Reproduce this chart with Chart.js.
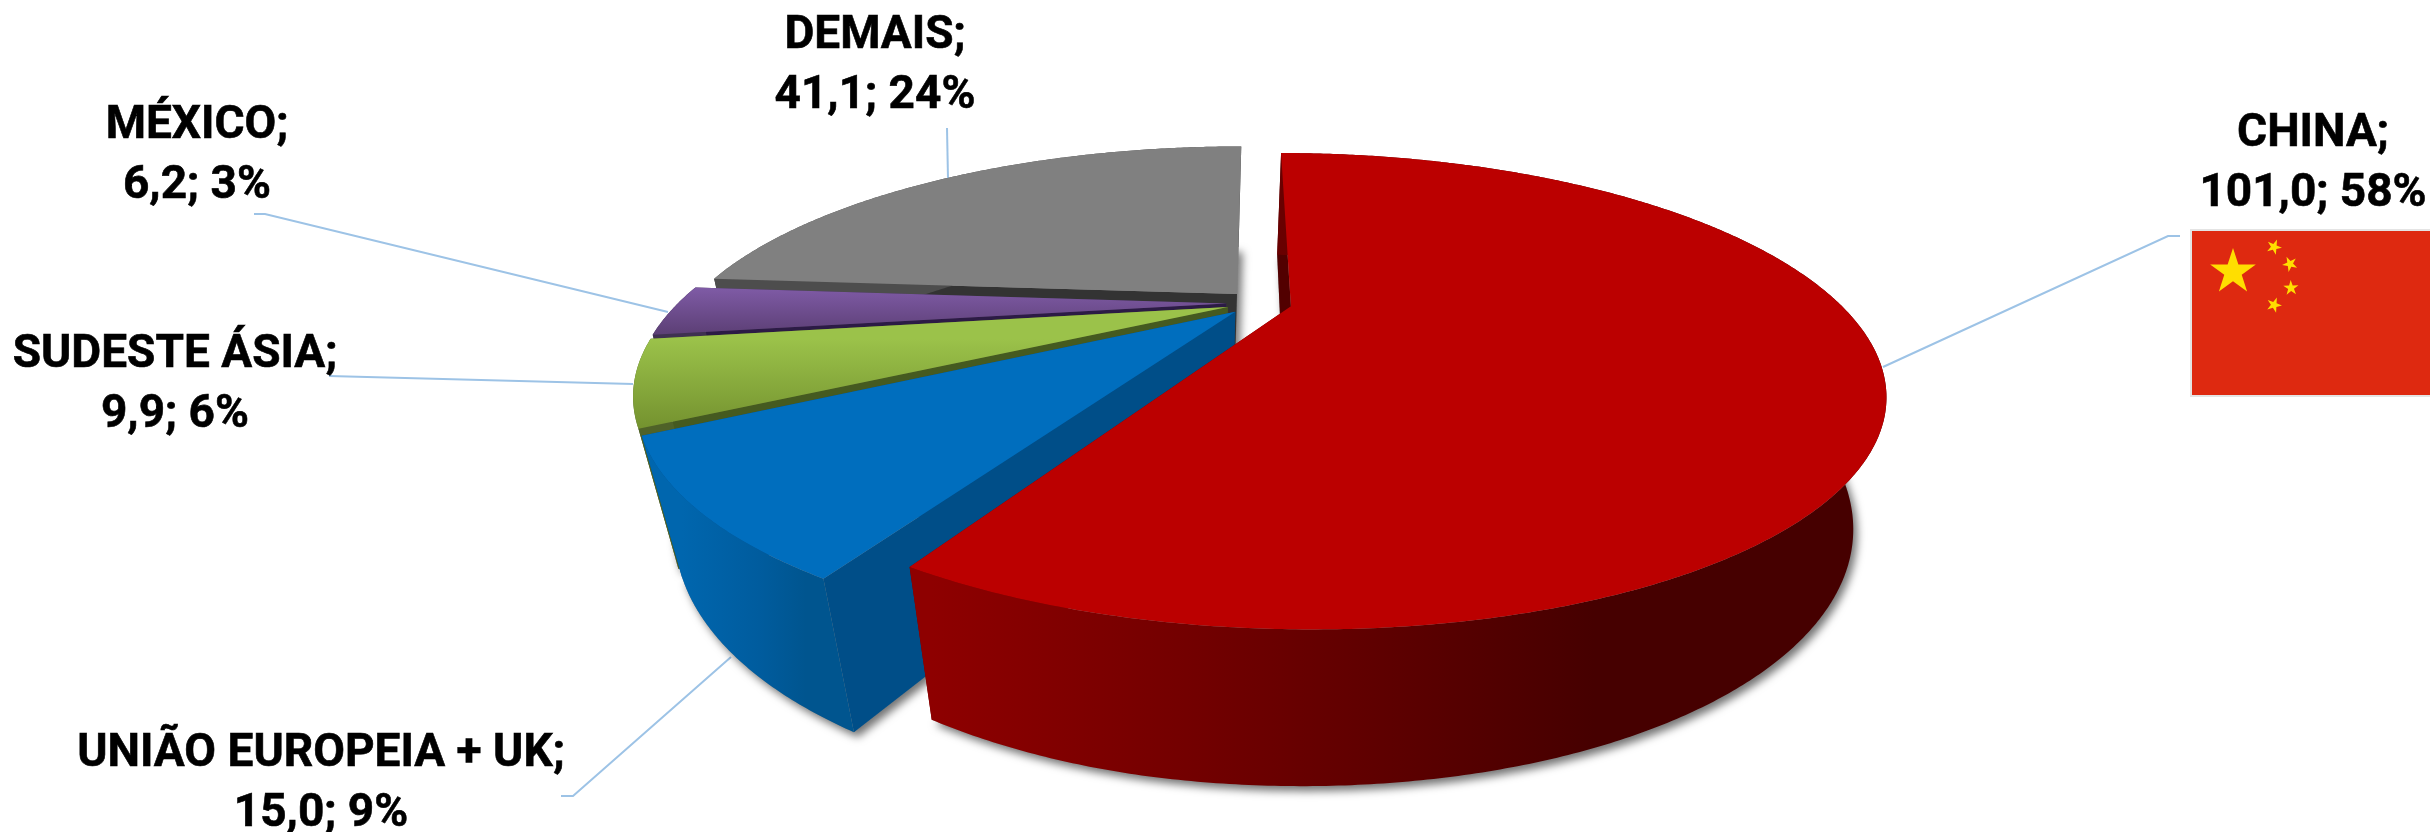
<!DOCTYPE html>
<html><head><meta charset="utf-8">
<style>html,body{margin:0;padding:0;background:#fff}canvas{display:block}</style>
<script src="https://cdn.jsdelivr.net/npm/chart.js@4/dist/chart.umd.js"></script>
</head><body>
<canvas id="c" width="2430" height="832"></canvas>
<script>
// ---- data ----
const categories = ['CHINA', 'UNIÃO EUROPEIA + UK', 'SUDESTE ÁSIA', 'MÉXICO', 'DEMAIS'];
const values = [101.0, 15.0, 9.9, 6.2, 41.1];
const percentLabels = ['58%', '9%', '6%', '3%', '24%'];
// ---- style ----
const topColors = ['#BB0000', '#006EBE', '#9BC24A', '#7F5BA6', '#808080'];
const topShade = [null, null, '#74922F', '#5C3F75', null];
const wallStart = ['#8E0000', '#0066AE', '#4F6228', '#3F3151', '#4D4D4D'];
const wallMid = ['#620000', '#005C9E', '#4F6228', '#3F3151', '#4D4D4D'];
const wallEnd = ['#460000', '#00558F', '#4F6228', '#3F3151', '#4D4D4D'];
const edgeStartColors = ['#520000', '#004E88', '#455A20', '#2C1B45', '#333333'];
const edgeEndColors = ['#6A0000', '#004E88', '#4F6228', '#3F3151', '#777777'];
const drawOrder = [4, 3, 2, 1, 0];
const labelAnchors = [[2313, 146], [321, 766], [175, 367], [197, 138], [875, 48]];
const leaderLines = [
  [[1883, 367], [2168, 236], [2180, 236]],
  [[731, 657], [573, 796], [561, 796]],
  [[633, 384], [329, 376]],
  [[668, 312], [265, 214], [254, 214]],
  [[948, 179], [947, 128]]
];
// projective view of the pie plane
const VIEW = {a: 548, b: -445, c: 1259, e: 98, f: 303, h: -0.355, m: 0.07, vx: 1149, vy: 2218, rightPull: 0.6};
function project(p, q, z) {
  const w0 = 1 + VIEW.h * q;
  const x0 = (VIEW.a * p + VIEW.b * q + VIEW.c) / w0;
  const y0 = (VIEW.e * q + VIEW.f) / w0;
  if (!z) return [x0, y0];
  const mu = VIEW.m * z / (w0 + VIEW.m * z);
  const pull = x0 > VIEW.vx ? VIEW.rightPull : 1;
  return [x0 + mu * (VIEW.vx - x0) * pull, y0 + mu * (VIEW.vy - y0)];
}
function sliceGeom(el) {
  const mid = (el.startAngle + el.endAngle) / 2;
  const off = (el.options.offset || 0) / 4 / el.outerRadius;
  const ox = Math.cos(mid) * off, oy = Math.sin(mid) * off;
  const n = Math.max(2, Math.ceil((el.endAngle - el.startAngle) / 0.008));
  const rim = [];
  for (let i = 0; i <= n; i++) {
    const t = el.startAngle + (el.endAngle - el.startAngle) * i / n;
    rim.push([Math.cos(t) + ox, Math.sin(t) + oy]);
  }
  return {rim, centre: [ox, oy]};
}
function poly(ctx, pts) {
  ctx.beginPath();
  pts.forEach((pt, i) => i ? ctx.lineTo(pt[0], pt[1]) : ctx.moveTo(pt[0], pt[1]));
  ctx.closePath();
}
function star(ctx, x, y, r, rot) {
  ctx.beginPath();
  for (let i = 0; i < 10; i++) {
    const rr = i % 2 ? r * 0.382 : r, t = rot + i * Math.PI / 5;
    ctx.lineTo(x + rr * Math.sin(t), y - rr * Math.cos(t));
  }
  ctx.closePath();
  ctx.fill();
}
const pie3d = {
  id: 'pie3d',
  beforeDatasetsDraw(chart) {
    const ctx = chart.ctx, els = chart.getDatasetMeta(0).data;
    ctx.save();
    // leader lines
    ctx.strokeStyle = '#9DC3E6'; ctx.lineWidth = 2;
    leaderLines.forEach(l => {
      ctx.beginPath();
      l.forEach((pt, i) => i ? ctx.lineTo(pt[0], pt[1]) : ctx.moveTo(pt[0], pt[1]));
      ctx.stroke();
    });
    // cast shadow
    ctx.save();
    ctx.shadowColor = 'rgba(0,0,0,0.55)'; ctx.shadowBlur = 9;
    ctx.shadowOffsetX = 4; ctx.shadowOffsetY = 5;
    ctx.fillStyle = '#888';
    drawOrder.forEach(i => {
      const g = sliceGeom(els[i]);
      poly(ctx, [project(g.centre[0], g.centre[1], 1), ...g.rim.map(r => project(r[0], r[1], 1))]);
      ctx.fill();
    });
    ctx.restore();
    // slices, back to front
    drawOrder.forEach(i => {
      const g = sliceGeom(els[i]);
      const top = [project(g.centre[0], g.centre[1], 0), ...g.rim.map(r => project(r[0], r[1], 0))];
      const bottom = [project(g.centre[0], g.centre[1], 1), ...g.rim.map(r => project(r[0], r[1], 1))];
      const last = top.length - 1;
      // radial walls: the closing wall first, the opening wall (the visible one) over it
      poly(ctx, [top[0], top[last], bottom[last], bottom[0]]);
      ctx.fillStyle = edgeEndColors[i]; ctx.fill();
      poly(ctx, [top[0], top[1], bottom[1], bottom[0]]);
      ctx.fillStyle = edgeStartColors[i]; ctx.fill();
      // outer wall
      const xs = bottom.slice(1).map(p => p[0]);
      const grad = ctx.createLinearGradient(Math.min(...xs), 0, Math.max(...xs), 0);
      grad.addColorStop(0, wallStart[i]);
      grad.addColorStop(0.45, wallMid[i]);
      grad.addColorStop(0.72, wallEnd[i]);
      grad.addColorStop(1, wallEnd[i]);
      poly(ctx, [...top.slice(1), ...bottom.slice(1).reverse()]);
      ctx.fillStyle = grad; ctx.fill();
      // top face
      poly(ctx, top);
      if (topShade[i]) {
        const ys = top.map(p => p[1]);
        const yTop = Math.min(...top.slice(1).map(p => p[1]));
        const vg = ctx.createLinearGradient(0, yTop, 0, Math.max(...ys));
        vg.addColorStop(0, els[i].options.backgroundColor);
        vg.addColorStop(1, topShade[i]);
        ctx.fillStyle = vg;
      } else {
        ctx.fillStyle = els[i].options.backgroundColor;
      }
      ctx.fill();
    });
    // flag
    ctx.fillStyle = '#E4E4E4'; ctx.fillRect(2190, 229, 240, 168);
    ctx.fillStyle = '#DE2910'; ctx.fillRect(2192, 231, 238, 164);
    ctx.fillStyle = '#FFDE00';
    star(ctx, 2233, 272, 24, 0);
    [[2274, 247], [2290, 264], [2291, 288], [2274, 305]].forEach(s => {
      star(ctx, s[0], s[1], 8, Math.atan2(2233 - s[0], s[1] - 272));
    });
    // labels
    ctx.fillStyle = '#000';
    ctx.strokeStyle = '#000';
    ctx.lineWidth = 0.6;
    ctx.font = 'bold 46px Roboto';
    ctx.textAlign = 'center';
    ctx.textBaseline = 'alphabetic';
    categories.forEach((name, i) => {
      const [x, y] = labelAnchors[i];
      const line2 = values[i].toFixed(1).replace('.', ',') + '; ' + percentLabels[i];
      ctx.fillText(name + ';', x, y);
      ctx.strokeText(name + ';', x, y);
      ctx.fillText(line2, x, y + 59.5);
      ctx.strokeText(line2, x, y + 59.5);
    });
    ctx.restore();
    return false;
  }
};
new Chart(document.getElementById('c'), {
  type: 'pie',
  data: {
    labels: categories,
    datasets: [{data: values, backgroundColor: topColors, borderWidth: 0, offset: 89}]
  },
  options: {
    responsive: false,
    animation: false,
    events: [],
    plugins: {legend: {display: false}, tooltip: {enabled: false}}
  },
  plugins: [pie3d]
});
</script>
</body></html>
